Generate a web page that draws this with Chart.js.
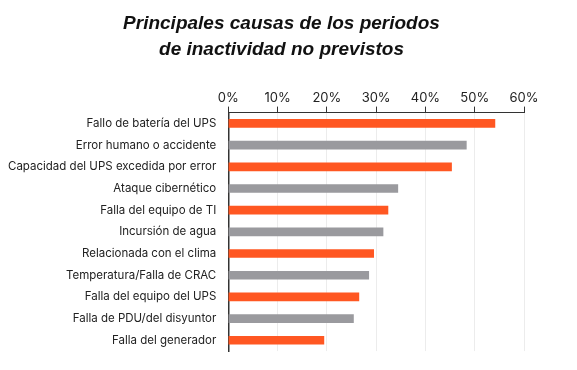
<!DOCTYPE html>
<html lang="es">
<head>
    <meta charset="UTF-8">
    <title>Principales causas de los periodos de inactividad no previstos</title>
    <script src="https://cdn.jsdelivr.net/npm/chart.js"></script>
    <style>
        html, body { margin: 0; padding: 0; background: #fff; }
        .wrap { width: 577px; height: 370px; position: relative; }
    </style>
</head>
<body>
    <div class="wrap"><canvas id="causes"></canvas></div>

    <script>
        // data
        const causes = [
            "Fallo de batería del UPS",
            "Error humano o accidente",
            "Capacidad del UPS excedida por error",
            "Ataque cibernético",
            "Falla del equipo de TI",
            "Incursión de agua",
            "Relacionada con el clima",
            "Temperatura/Falla de CRAC",
            "Falla del equipo del UPS",
            "Falla de PDU/del disyuntor",
            "Falla del generador"
        ];
        const shares = [54.1, 48.3, 45.3, 34.4, 32.4, 31.4, 29.5, 28.5, 26.5, 25.4, 19.4];
        const titleLines = ["Principales causas de los periodos", "de inactividad no previstos"];

        const orange = "#ff5722";
        const grey = "#9a9a9e";
        const barColors = causes.map((c, i) => i % 2 === 0 ? orange : grey);

        // title sits a bit left of the canvas centre in the original, so draw it by hand
        const titlePlugin = {
            id: "twoLineTitle",
            afterDraw(chart) {
                const ctx = chart.ctx;
                ctx.save();
                ctx.fillStyle = "#111";
                ctx.font = "italic bold 19px Arial, 'Liberation Sans'";
                ctx.textAlign = "center";
                ctx.textBaseline = "middle";
                titleLines.forEach((line, i) => ctx.fillText(line, 281.5, 24 + i * 26));
                ctx.restore();
            }
        };

        new Chart(document.getElementById("causes"), {
            type: "bar",
            data: {
                labels: causes,
                datasets: [{
                    data: shares,
                    backgroundColor: barColors,
                    barThickness: 8
                }]
            },
            options: {
                indexAxis: "y",
                responsive: true,
                maintainAspectRatio: false,
                animation: false,
                layout: { padding: { left: -4, right: 53, bottom: 5, top: 89 } },
                plugins: {
                    legend: { display: false },
                    tooltip: { enabled: false },
                    title: { display: false }
                },
                scales: {
                    x: {
                        position: "top",
                        min: 0,
                        max: 60,
                        ticks: {
                            stepSize: 10,
                            color: "#222",
                            padding: 1,
                            font: { family: "Inter", size: 13 },
                            callback: v => v + "%"
                        },
                        grid: { color: "#ececec", tickColor: "#333", tickLength: 6, lineWidth: 1 },
                        border: { color: "#333", width: 1 }
                    },
                    y: {
                        ticks: {
                            color: "#222",
                            padding: 12,
                            font: { family: "Inter", size: 11.5 }
                        },
                        grid: { display: false, drawTicks: false },
                        border: { color: "#333", width: 1.5 }
                    }
                }
            },
            plugins: [titlePlugin]
        });
    </script>
</body>
</html>
